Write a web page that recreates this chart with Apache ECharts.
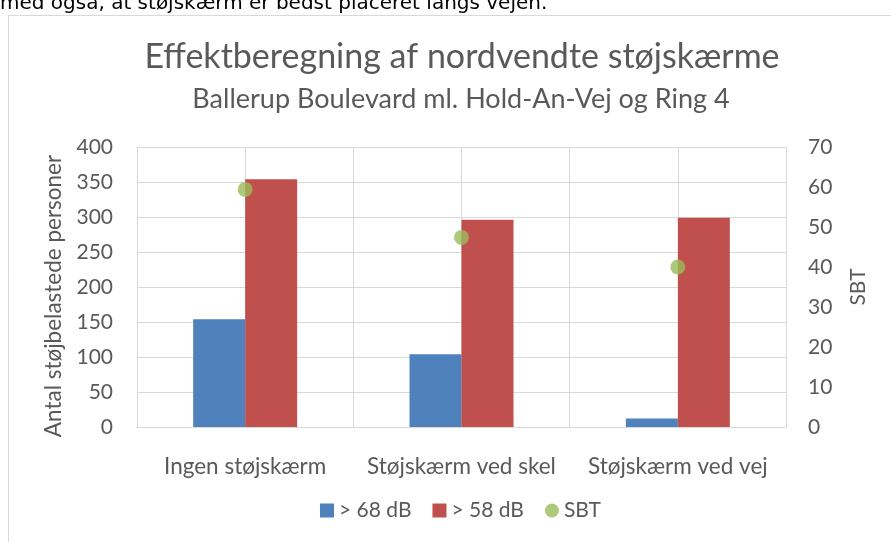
<!DOCTYPE html>
<html>
<head>
<meta charset="utf-8">
<script src="https://cdn.jsdelivr.net/npm/echarts@6/dist/echarts.min.js"></script>
<style>
  html, body { margin: 0; padding: 0; background: #fff; }
  #chart { width: 891px; height: 542px; }
</style>
</head>
<body>
<div id="chart"></div>
<script>
// data
const categories = ['Ingen støjskærm', 'Støjskærm ved skel', 'Støjskærm ved vej'];
const over68 = [154, 104, 12];
const over58 = [354, 296, 299];
const sbt = [59.4, 47.4, 40];
const leftTicks = [0, 400, 50];   // min, max, interval
const rightTicks = [0, 70, 10];

const txt = '#595959';
const grid = '#d9d9d9';
const font = 'Lato, "Open Sans", sans-serif';

const chart = echarts.init(document.getElementById('chart'));
chart.setOption({
  animation: false,
  textStyle: { fontFamily: font },
  title: [
    { text: 'Effektberegning af nordvendte støjskærme', left: 457, top: 35, textAlign: 'center',
      textStyle: { fontSize: 34, fontWeight: 'normal', color: txt, fontFamily: font } },
    { text: 'Ballerup Boulevard ml. Hold-An-Vej og Ring 4', left: 456, top: 81, textAlign: 'center',
      textStyle: { fontSize: 27, fontWeight: 'normal', color: txt, fontFamily: font } }
  ],
  graphic: [
    { type: 'rect', shape: { x: 8.5, y: 15.5, width: 900, height: 600 },
      style: { fill: 'none', stroke: '#d9d9d9', lineWidth: 1 }, silent: true },
    { type: 'text', x: 0, y: 14,
      style: { text: 'med også, at støjskærm er bedst placeret langs vejen.', fill: '#000',
        font: '20px "DejaVu Sans", Verdana, sans-serif', verticalAlign: 'bottom' } }
  ],
  legend: {
    bottom: 16, left: 315, itemWidth: 14, itemHeight: 14, itemGap: 21,
    textStyle: { fontSize: 21, color: txt, fontFamily: font },
    data: [
      { name: '> 68 dB', icon: 'rect' },
      { name: '> 58 dB', icon: 'rect' },
      { name: 'SBT', icon: 'circle' }
    ]
  },
  grid: { left: 137, right: 105, top: 147, bottom: 115 },
  xAxis: [
    { type: 'category', data: categories,
      axisLine: { lineStyle: { color: grid } }, axisTick: { show: false },
      axisLabel: { color: txt, fontSize: 22.5, margin: 28, interval: 0 }, splitLine: { show: false } },
    { type: 'value', min: 0, max: 6, interval: 1, position: 'bottom',
      axisLine: { show: false }, axisTick: { show: false }, axisLabel: { show: false },
      splitLine: { show: true, lineStyle: { color: grid, width: 1 } } }
  ],
  yAxis: [
    { type: 'value', min: leftTicks[0], max: leftTicks[1], interval: leftTicks[2],
      name: 'Antal støjbelastede personer', nameLocation: 'middle', nameGap: 72,
      nameTextStyle: { color: txt, fontSize: 22.5, padding: [0, 18, 0, 0] },
      axisLine: { show: true, lineStyle: { color: grid } }, axisTick: { show: false },
      axisLabel: { color: txt, fontSize: 21, margin: 24 },
      splitLine: { lineStyle: { color: grid, width: 1 } } },
    { type: 'value', min: rightTicks[0], max: rightTicks[1], interval: rightTicks[2],
      name: 'SBT', nameLocation: 'middle', nameGap: 62, nameRotate: 90,
      nameTextStyle: { color: txt, fontSize: 21 },
      axisLine: { show: true, lineStyle: { color: grid } }, axisTick: { show: false },
      axisLabel: { color: txt, fontSize: 21, margin: 22 },
      splitLine: { show: false } }
  ],
  series: [
    { name: '> 68 dB', type: 'bar', data: over68, barWidth: 52, barGap: '0%',
      itemStyle: { color: '#4F81BD' } },
    { name: '> 58 dB', type: 'bar', data: over58, barWidth: 52, barGap: '0%',
      itemStyle: { color: '#C0504D' } },
    { name: 'SBT', type: 'scatter', yAxisIndex: 1, data: sbt, symbolSize: 15,
      itemStyle: { color: '#9BBB59' }, z: 5 }
  ]
});
</script>
</body>
</html>
